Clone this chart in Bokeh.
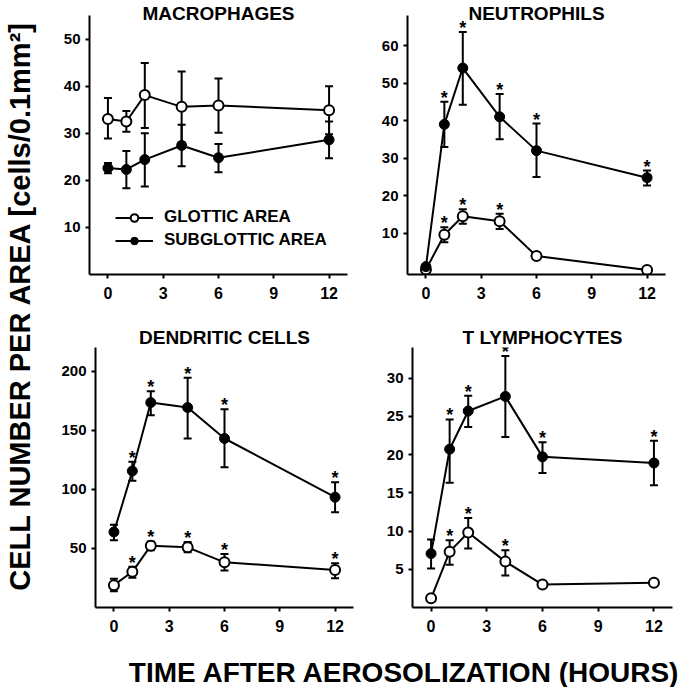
import math
from bokeh.plotting import figure
from bokeh.layouts import row, column
from bokeh.models import (ColumnDataSource, Whisker, TeeHead, Label, Legend,
                          LegendItem, FixedTicker, Range1d)
from bokeh.embed import file_html
from bokeh.resources import INLINE
from bokeh.core.properties import value

FONT = "Liberation Sans"

hours = [0, 1, 2, 4, 6, 12]
x_ticks = [0, 3, 6, 9, 12]

# ---- MACROPHAGES ----
mac_glot = [33.0, 32.5, 38.1, 35.6, 35.9, 34.9]
mac_glot_up = [37.5, 34.7, 44.9, 43.1, 41.6, 40.0]
mac_glot_lo = [28.9, 30.3, 31.1, 28.1, 30.1, 29.8]
mac_sub = [22.6, 22.3, 24.4, 27.4, 24.8, 28.6]
mac_sub_up = [23.7, 26.2, 30.0, 31.8, 27.7, 32.5]
mac_sub_lo = [21.5, 18.3, 18.7, 23.0, 21.7, 24.7]
mac_glot_sig = [0, 0, 0, 0, 0, 0]
mac_sub_sig = [0, 0, 0, 0, 0, 0]
mac_yticks = [10, 20, 30, 40, 50]

# ---- NEUTROPHILS ----
neu_glot = [0.3, 9.6, 14.5, 13.2, 3.9, 0.2]
neu_glot_up = [0.3, 11.6, 16.4, 15.2, 3.9, 0.2]
neu_glot_lo = [0.3, 7.6, 12.5, 11.1, 3.9, 0.2]
neu_sub = [1.1, 39.0, 54.0, 41.0, 32.0, 24.8]
neu_sub_up = [1.1, 45.0, 63.6, 47.1, 39.2, 26.7]
neu_sub_lo = [1.1, 33.0, 44.2, 35.0, 25.0, 22.7]
neu_glot_sig = [0, 1, 1, 1, 0, 0]
neu_sub_sig = [0, 1, 1, 1, 1, 1]
neu_yticks = [10, 20, 30, 40, 50, 60]

# ---- DENDRITIC CELLS ----
den_glot = [18.9, 30.2, 52.3, 50.9, 38.2, 31.8]
den_glot_up = [24.3, 34.4, 55.9, 55.4, 45.3, 37.4]
den_glot_lo = [13.8, 25.1, 48.4, 46.7, 31.3, 24.8]
den_sub = [63.9, 115.5, 173.4, 169.2, 143.0, 93.3]
den_sub_up = [70.0, 123.4, 182.9, 194.4, 167.7, 106.0]
den_sub_lo = [56.8, 107.3, 162.7, 143.0, 118.6, 80.7]
den_glot_sig = [0, 1, 1, 1, 1, 1]
den_sub_sig = [0, 1, 1, 1, 1, 1]
den_yticks = [50, 100, 150, 200]

# ---- T LYMPHOCYTES ----
tly_glot = [1.2, 7.3, 9.8, 6.0, 3.0, 3.25]
tly_glot_up = [1.2, 8.8, 11.7, 7.5, 3.0, 3.25]
tly_glot_lo = [1.2, 5.6, 7.7, 4.2, 3.0, 3.25]
tly_sub = [7.05, 20.7, 25.7, 27.6, 19.7, 18.9]
tly_sub_up = [8.9, 24.6, 27.7, 32.9, 21.6, 21.8]
tly_sub_lo = [5.1, 16.3, 23.6, 22.3, 17.6, 16.0]
tly_glot_sig = [0, 1, 1, 1, 0, 0]
tly_sub_sig = [0, 1, 1, 1, 1, 1]
tly_yticks = [5, 10, 15, 20, 25, 30]

legend_labels = ["GLOTTIC AREA", "SUBGLOTTIC AREA"]


def make_panel(title, yr, yticks, glot, glot_up, glot_lo, sub, sub_up, sub_lo,
               glot_sig, sub_sig, width, height, mb, title_standoff,
               legend=False):
    p = figure(width=width, height=height, x_range=Range1d(-1, 13),
               y_range=Range1d(*yr), toolbar_location=None,
               output_backend="svg", min_border_left=mb[0],
               min_border_right=mb[1], min_border_top=mb[2],
               min_border_bottom=mb[3])
    p.outline_line_color = None
    p.xgrid.visible = False
    p.ygrid.visible = False
    p.background_fill_color = "white"
    p.border_fill_color = "white"
    p.title.text = title
    p.title.align = "center"
    p.title.text_font = FONT
    p.title.text_font_style = "bold"
    p.title.text_font_size = "19px"
    p.title.text_color = "black"
    p.title.standoff = title_standoff
    p.xaxis.ticker = FixedTicker(ticks=x_ticks)
    p.yaxis.ticker = FixedTicker(ticks=yticks)
    for ax in p.axis:
        ax.axis_line_width = 2
        ax.axis_line_color = "black"
        ax.major_tick_line_width = 2
        ax.major_tick_line_color = "black"
        ax.major_tick_out = 4
        ax.major_tick_in = 0
        ax.minor_tick_line_color = None
        ax.major_label_text_font = FONT
        ax.major_label_text_font_style = "bold"
        ax.major_label_text_font_size = "15px"
        ax.major_label_text_color = "black"
    p.xaxis.major_label_text_font_size = "16px"
    p.xaxis.major_label_standoff = 8
    p.yaxis.major_label_standoff = 5

    sg = ColumnDataSource(dict(x=hours, y=glot, up=glot_up, lo=glot_lo))
    ss = ColumnDataSource(dict(x=hours, y=sub, up=sub_up, lo=sub_lo))
    for src in (ss, sg):
        w = Whisker(base="x", upper="up", lower="lo", source=src,
                    dimension="height", line_width=2, line_color="black",
                    upper_head=TeeHead(size=8, line_width=2, line_color="black"),
                    lower_head=TeeHead(size=8, line_width=2, line_color="black"),
                    level="underlay")
        p.add_layout(w)

    l_sub = p.line("x", "y", source=ss, line_width=2, line_color="black")
    l_glot = p.line("x", "y", source=sg, line_width=2, line_color="black")
    c_glot = p.scatter("x", "y", source=sg, marker="circle", size=10,
                       fill_color="white", line_color="black", line_width=2)
    c_sub = p.scatter("x", "y", source=ss, marker="circle", size=10,
                      fill_color="black", line_color="black", line_width=1)

    sx, sy = [], []
    for xs, ups, flags in ((hours, glot_up, glot_sig), (hours, sub_up, sub_sig)):
        for xv, uv, f in zip(xs, ups, flags):
            if f:
                sx.append(xv)
                sy.append(uv)
    if sx:
        st = ColumnDataSource(dict(x=sx, y=sy, t=["*"] * len(sx)))
        p.text("x", "y", text="t", source=st, text_font=value(FONT),
               text_font_style="bold", text_font_size="18px",
               text_align="center", text_baseline="alphabetic",
               y_offset=-4, text_color="black")

    if legend:
        lg = Legend(items=[LegendItem(label=legend_labels[0], renderers=[l_glot, c_glot]),
                           LegendItem(label=legend_labels[1], renderers=[l_sub, c_sub])],
                    location=(16, 14), glyph_width=38, glyph_height=19,
                    label_height=19, spacing=3, padding=10, margin=0,
                    label_standoff=11, label_text_font=FONT,
                    label_text_font_style="bold", label_text_font_size="17px",
                    label_text_color="black",
                    background_fill_alpha=0, border_line_alpha=0)
        p.add_layout(lg)
    return p


p1 = make_panel("MACROPHAGES", (0, 55), mac_yticks, mac_glot, mac_glot_up,
                mac_glot_lo, mac_sub, mac_sub_up, mac_sub_lo, mac_glot_sig,
                mac_sub_sig, 320, 318, (39, 23, 15, 44), -16, legend=True)
p2 = make_panel("NEUTROPHILS", (-1, 68), neu_yticks, neu_glot, neu_glot_up,
                neu_glot_lo, neu_sub, neu_sub_up, neu_sub_lo, neu_glot_sig,
                neu_sub_sig, 315, 318, (37, 20, 15, 44), -16)
p3 = make_panel("DENDRITIC CELLS", (0, 220), den_yticks, den_glot, den_glot_up,
                den_glot_lo, den_sub, den_sub_up, den_sub_lo, den_glot_sig,
                den_sub_sig, 320, 327, (45, 17, 29, 38), 0)
p4 = make_panel("T LYMPHOCYTES", (0, 34), tly_yticks, tly_glot, tly_glot_up,
                tly_glot_lo, tly_sub, tly_sub_up, tly_sub_lo, tly_glot_sig,
                tly_sub_sig, 315, 327, (42, 13, 29, 38), 0)


def blank(width, height):
    f = figure(width=width, height=height, x_range=Range1d(0, 1),
               y_range=Range1d(0, 1), toolbar_location=None,
               output_backend="svg", min_border=0)
    f.axis.visible = False
    f.xgrid.visible = False
    f.ygrid.visible = False
    f.outline_line_color = None
    f.border_fill_color = "white"
    return f


ylab = blank(50, 645)
ylab.add_layout(Label(x=0.38, y=0.527, text="CELL NUMBER PER AREA [cells/0.1mm\u00b2]",
                      angle=math.pi / 2, text_align="center",
                      text_baseline="middle", text_font=FONT,
                      text_font_style="bold", text_font_size="29px",
                      text_color="black"))

xlab = blank(685, 42)
xlab.add_layout(Label(x=0.59, y=0.36, text="TIME AFTER AEROSOLIZATION (HOURS)",
                      text_align="center", text_baseline="alphabetic",
                      text_font=FONT, text_font_style="bold",
                      text_font_size="28px", text_color="black"))

grid = column(row(p1, p2, spacing=0), row(p3, p4, spacing=0), spacing=0)
layout = column(row(ylab, grid, spacing=0), xlab, spacing=0)

open("out.html", "w").write(file_html(layout, INLINE))
